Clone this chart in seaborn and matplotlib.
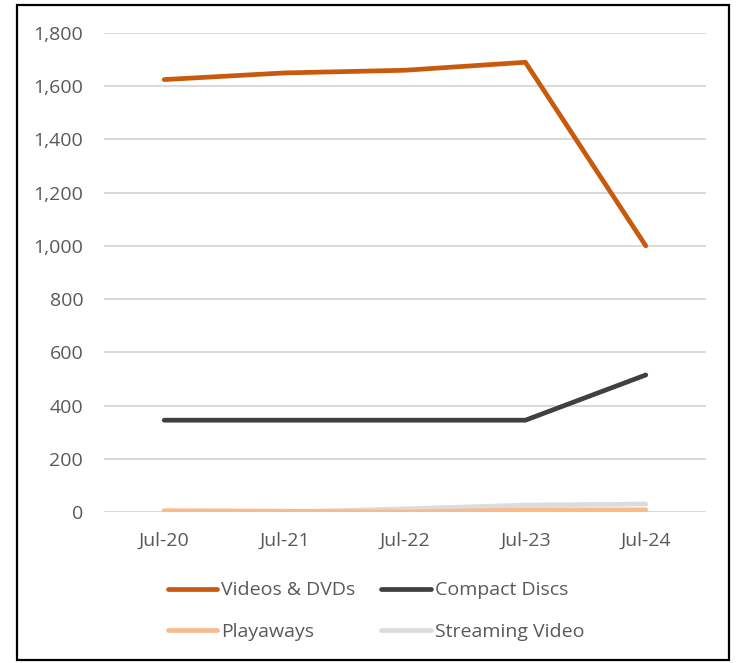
import matplotlib
matplotlib.use("Agg")
import matplotlib.pyplot as plt
import seaborn as sns
import pandas as pd
from matplotlib.patches import Rectangle
from matplotlib.lines import Line2D

periods = ["Jul-20", "Jul-21", "Jul-22", "Jul-23", "Jul-24"]
videos_dvds = [1625, 1650, 1660, 1690, 1000]
compact_discs = [345, 345, 345, 345, 515]
playaways = [5, 3, 0, 8, 8]
streaming_video = [0, 0, 12, 26, 30]
series_names = ["Videos & DVDs", "Compact Discs", "Playaways", "Streaming Video"]
colors = ["#C85A0E", "#404040", "#F8BB8E", "#DCDCDC"]

df = pd.DataFrame({
    "period": periods * 4,
    "value": videos_dvds + compact_discs + playaways + streaming_video,
    "series": sum([[s] * len(periods) for s in series_names], []),
})

sns.set_theme(style="white")
plt.rcParams["font.family"] = ["Open Sans", "DejaVu Sans"]

W, H = 738, 663
fig = plt.figure(figsize=(W / 100, H / 100), dpi=100)
ax = fig.add_axes([104 / W, 1 - 512 / H, (706 - 104) / W, (512 - 33) / H])

sns.lineplot(data=df, x="period", y="value", hue="series", hue_order=series_names,
             palette=colors, linewidth=3.4, ax=ax, legend=False, sort=False,
             solid_capstyle="round")
for line, z in zip(ax.get_lines(), [4, 3, 2, 1]):
    line.set_zorder(z + 2)

ax.set_xlim(-0.5, 4.5)
ax.set_ylim(0, 1800)
ax.set_yticks(range(0, 1801, 200))
ax.set_yticklabels([f"{v:,}" for v in range(0, 1801, 200)])
ax.grid(axis="y", color="#D9D9D9", linewidth=1.4)
ax.set_axisbelow(True)
for sp in ax.spines.values():
    sp.set_visible(False)
ax.set_xlabel("")
ax.set_ylabel("")
ax.tick_params(axis="both", length=0, labelsize=14, labelcolor="#595959")
ax.tick_params(axis="y", pad=15)
ax.tick_params(axis="x", pad=14)

# column-major fill: order so rows read Videos|Compact, Playaways|Streaming
leg_order = [0, 2, 1, 3]
handles = [Line2D([0], [0], color=colors[i], linewidth=3.4, solid_capstyle="round") for i in leg_order]
labels = [series_names[i] for i in leg_order]
fig.legend(handles, labels, ncol=2, loc="center",
           bbox_to_anchor=(376 / W, 1 - 611 / H), frameon=False,
           fontsize=14, labelcolor="#595959", handlelength=2.55,
           handletextpad=0.2, columnspacing=1.34, labelspacing=1.2,
           borderpad=0)

fig.patches.append(Rectangle((17 / W, 1 - 660 / H), (729 - 17) / W, (660 - 5) / H,
                             transform=fig.transFigure, fill=False,
                             edgecolor="black", linewidth=1.6))

fig.savefig("out.png", dpi=100)
